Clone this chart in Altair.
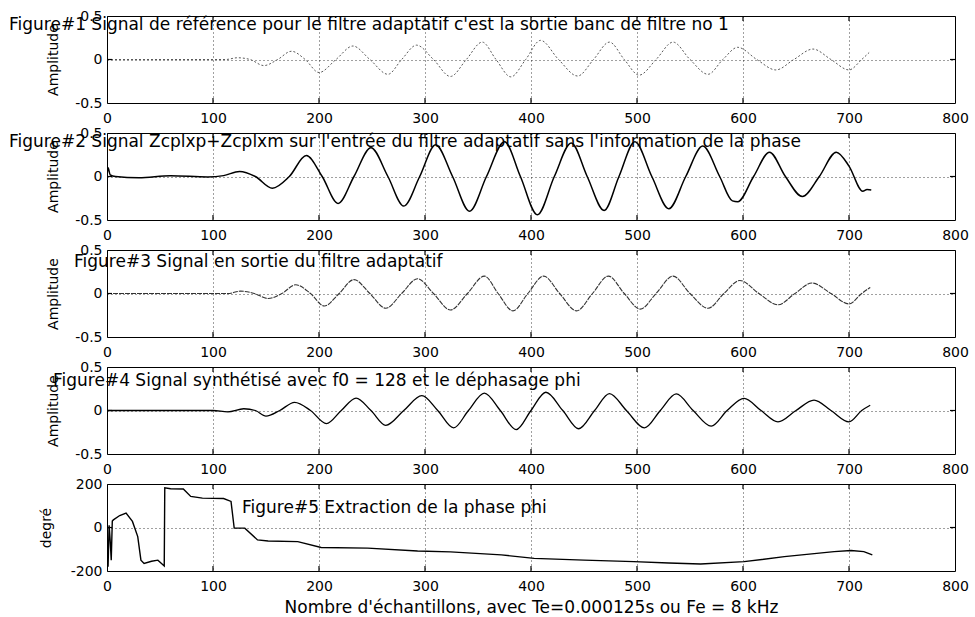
import altair as alt
import pandas as pd

# ---------------- data ----------------
x_ticks = [0, 100, 200, 300, 400, 500, 600, 700, 800]
inner_x_ticks = [100, 200, 300, 400, 500, 600, 700]

titles = [
    "Figure#1 Signal de référence pour le filtre adaptatif c'est la sortie banc de filtre no 1",
    "Figure#2 Signal Zcplxp+Zcplxm sur l'entrée du filtre adaptatif sans l'information de la phase",
    "Figure#3 Signal en sortie du filtre adaptatif",
    "Figure#4 Signal synthétisé avec f0 = 128 et le déphasage phi",
    "Figure#5 Extraction de la phase phi",
]
y_titles = ["Amplitude", "Amplitude", "Amplitude", "Amplitude", "degré"]
x_title = "Nombre d'échantillons, avec Te=0.000125s ou Fe = 8 kHz"

amp_ticks = [-0.5, 0, 0.5]
deg_ticks = [-200, 0, 200]

# Figure 1: reference signal
p1_n = [0, 50, 100, 112, 123, 135, 148, 161, 174, 187, 200, 216, 232, 248, 265, 278, 292, 308,
        324, 339, 354, 367, 381, 395, 409, 426, 444, 459, 474, 488, 502, 518, 534, 550, 567,
        581, 595, 613, 631, 648, 666, 683, 700, 712, 719]
p1_v = [0, 0, 0, 0.0, 0.02, 0, -0.07, 0, 0.095, 0, -0.15, 0, 0.155, 0, -0.17, 0, 0.165, 0,
        -0.195, 0, 0.2, 0, -0.2, 0, 0.22, 0, -0.19, 0, 0.2, 0, -0.18, 0, 0.2, 0, -0.17,
        0, 0.14, 0, -0.12, 0, 0.12, 0, -0.12, 0, 0.08]

# Figure 2: adaptive filter input
p2_n = [0, 1, 3, 8, 30, 60, 95, 110, 125, 140, 156, 172, 188, 203, 218, 233, 249, 265, 280,
        295, 310, 326, 342, 358, 375, 390, 406, 422, 438, 453, 469, 483, 498, 514, 530, 546,
        562, 578, 590, 595, 610, 625, 640, 656, 672, 688, 700, 713, 717, 721]
p2_v = [0.0, 0.1, 0.02, 0.0, -0.015, 0.01, -0.005, 0.01, 0.058, 0, -0.135, 0, 0.24, 0, -0.31,
        0, 0.33, 0, -0.34, 0, 0.365, 0, -0.40, 0, 0.40, 0, -0.44, 0, 0.385, 0, -0.39, 0,
        0.40, 0, -0.37, 0, 0.35, 0, -0.28, -0.29, 0, 0.28, 0, -0.23, 0, 0.28, 0.12, -0.17,
        -0.15, -0.155]

# Figure 3: adaptive filter output
p3_n = [0, 50, 100, 114, 126, 139, 152, 165, 178, 192, 205, 219, 233, 248, 263, 278, 293, 308,
        324, 340, 356, 369, 383, 397, 412, 427, 443, 458, 473, 488, 503, 518, 534, 550, 567,
        582, 597, 615, 633, 649, 665, 683, 700, 712, 720]
p3_v = [0, 0, 0, 0.0, 0.027, 0, -0.057, 0, 0.10, 0, -0.144, 0, 0.16, 0, -0.17, 0, 0.17, 0,
        -0.19, 0, 0.20, 0, -0.2, 0, 0.2, 0, -0.2, 0, 0.2, 0, -0.18, 0, 0.2, 0, -0.17,
        0, 0.15, 0, -0.13, 0, 0.12, 0, -0.12, 0, 0.07]

# Figure 4: synthesized signal
p4_n = [0, 50, 100, 114, 129, 140, 150, 163, 177, 192, 207, 221, 235, 249, 263, 280, 297, 312,
        327, 341, 356, 371, 386, 400, 414, 430, 445, 460, 474, 490, 507, 522, 537, 553, 570,
        585, 601, 617, 633, 650, 667, 683, 700, 712, 720]
p4_v = [0, 0, 0, -0.015, 0.02, 0, -0.064, 0, 0.094, 0, -0.15, 0, 0.143, 0, -0.17, 0, 0.17, 0,
        -0.2, 0, 0.2, 0, -0.22, 0, 0.21, 0, -0.21, 0, 0.195, 0, -0.2, 0, 0.19, 0, -0.18,
        0, 0.14, 0, -0.13, 0, 0.12, 0, -0.13, 0, 0.06]

# Figure 5: extracted phase (degrees)
p5_n = [0, 1, 2, 3, 4, 5, 6, 12, 18, 24, 29, 32, 35, 42, 48, 54, 54.5, 60, 72, 79, 90, 110,
        117, 120, 130, 142, 152, 180, 202, 246, 293, 324, 372, 403, 450, 497, 530, 560, 601,
        639, 686, 702, 714, 722]
p5_v = [-10, -180, 10, -60, -150, 30, 35, 55, 66, 28, -42, -150, -165, -155, -150, -177, 182,
        178, 177, 143, 135, 133, 120, -3, -3, -57, -62, -65, -92, -95, -108, -112, -126,
        -142, -150, -157, -163, -168, -157, -134, -111, -106, -111, -126]

# ---------------- layout / style ----------------
W, H = 848, 87
FONT = "DejaVu Sans"

panels_spec = [
    dict(n=p1_n, v=p1_v, dom=[-0.5, 0.5], ticks=amp_ticks, style=dict(color="#5a5a5a", strokeWidth=1, strokeDash=[2, 2]),
         interp="monotone", tpos=(-98, 9), ytx=-54),
    dict(n=p2_n, v=p2_v, dom=[-0.5, 0.5], ticks=amp_ticks, style=dict(color="black", strokeWidth=1.5),
         interp="monotone", tpos=(-98, 9), ytx=-54),
    dict(n=p3_n, v=p3_v, dom=[-0.5, 0.5], ticks=amp_ticks, style=dict(color="#333333", strokeWidth=1.1, strokeDash=[5, 1]),
         interp="monotone", tpos=(-33, 11.5), ytx=-54),
    dict(n=p4_n, v=p4_v, dom=[-0.5, 0.5], ticks=amp_ticks, style=dict(color="black", strokeWidth=1.3),
         interp="monotone", tpos=(-54, 14), ytx=-54),
    dict(n=p5_n, v=p5_v, dom=[-200, 200], ticks=deg_ticks, style=dict(color="black", strokeWidth=1.4),
         interp="linear", tpos=(135, 23.5), ytx=-61),
]

label_expr = "(datum.value < 0 ? '-' : '') + format(abs(datum.value), '~g')"

charts = []
for i, p in enumerate(panels_spec):
    last = i == len(panels_spec) - 1
    df = pd.DataFrame({"n": p["n"], "v": p["v"]})
    xaxis = alt.Axis(
        values=x_ticks, format="d", labelFlush=False, labelOverlap=False,
        labelPadding=8, title=x_title if last else "",
        titleY=36, titleBaseline="middle", titleFontSize=17,
    )
    yaxis = alt.Axis(
        values=p["ticks"], labelExpr=label_expr, labelPadding=5,
        title=y_titles[i], titleX=p["ytx"], titleY=H / 2, titleAngle=270,
        titleAlign="center", titleBaseline="middle",
    )
    xenc = alt.X("n:Q", scale=alt.Scale(domain=[0, 800], nice=False, zero=False), axis=xaxis)
    yenc = alt.Y("v:Q", scale=alt.Scale(domain=p["dom"], nice=False, zero=False), axis=yaxis)

    line = alt.Chart(df).mark_line(interpolate=p["interp"], clip=True, **p["style"]).encode(x=xenc, y=yenc)

    tdf = pd.DataFrame({"n": inner_x_ticks})
    bot = alt.Chart(tdf).mark_rule(color="black", strokeWidth=1.2).encode(
        x="n:Q", y=alt.value(H), y2=alt.value(H - 5))
    top = alt.Chart(tdf).mark_rule(color="black", strokeWidth=1.2).encode(
        x="n:Q", y=alt.value(0), y2=alt.value(5))
    ydf = pd.DataFrame({"v": [0]})
    lt = alt.Chart(ydf).mark_rule(color="black", strokeWidth=1.2).encode(
        y="v:Q", x=alt.value(0), x2=alt.value(5))
    rt = alt.Chart(ydf).mark_rule(color="black", strokeWidth=1.2).encode(
        y="v:Q", x=alt.value(W), x2=alt.value(W - 5))

    tx = alt.Chart(pd.DataFrame({"t": [titles[i]]})).mark_text(
        align="left", baseline="middle", font=FONT, fontSize=17, color="black"
    ).encode(text="t:N", x=alt.value(p["tpos"][0]), y=alt.value(p["tpos"][1]))

    charts.append(alt.layer(line, bot, top, lt, rt, tx).properties(width=W, height=H))

chart = alt.vconcat(*charts, spacing=30, bounds="flush").properties(
    padding={"left": 8, "top": 8, "right": 0, "bottom": 0},
    background="white",
).configure_view(
    stroke="black", strokeWidth=1
).configure_axis(
    labelFont=FONT, labelFontSize=14, labelColor="black",
    titleFont=FONT, titleFontSize=14, titleFontWeight="normal", titleColor="black",
    domain=False, ticks=False, grid=True, gridColor="black", gridDash=[1, 3],
    gridOpacity=0.75, gridWidth=1,
)

chart.save("out.html", embed_options={"renderer": "svg", "actions": False})
